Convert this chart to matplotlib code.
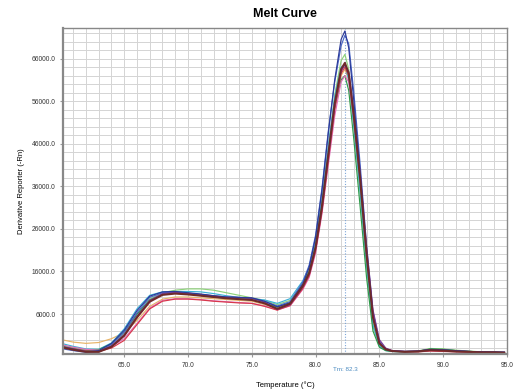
import matplotlib.pyplot as plt
from matplotlib.ticker import MultipleLocator, FixedLocator

plt.rcParams['font.family'] = ['Liberation Sans', 'DejaVu Sans']

temps = [60.2, 61, 62, 63, 64, 65, 66, 67, 68, 69, 70, 71, 72, 73, 74, 75, 76, 77, 78,
         79, 79.5, 80, 80.5, 81, 81.5, 82, 82.3, 82.6, 83, 83.5, 84, 84.5, 85, 85.5, 86,
         87, 88, 89, 90, 91, 92, 93, 94, 94.8]

navy = [-1800, -2300, -2900, -2600, -900, 2200, 6800, 10200, 11200, 11300, 11000, 10700,
        10300, 10000, 9900, 9800, 9000, 7700, 8600, 13000, 17000, 24000, 35000, 48500,
        61000, 70500, 72500, 68500, 56000, 39000, 20500, 5500, -800, -2300, -2700, -2800,
        -2700, -2300, -2400, -2600, -2800, -2900, -2900, -3000]
blue = [-2200, -2600, -3000, -2800, -1200, 1800, 6300, 9900, 11000, 11100, 10800, 10500,
        10200, 9900, 9800, 9700, 9000, 7900, 8900, 13500, 17500, 24500, 35500, 49000,
        60500, 69000, 71500, 69500, 58000, 41000, 22000, 6500, -500, -2200, -2700, -2800,
        -2800, -2400, -2500, -2700, -2800, -2900, -3000, -3000]
cyan = [-1000, -1600, -2200, -2300, -800, 2500, 7200, 10400, 11200, 11300, 11300, 11200,
        10800, 10300, 9900, 9600, 9300, 8500, 9600, 13800, 17000, 23000, 33000, 45500,
        57000, 64000, 64500, 61000, 50000, 34500, 17500, 3500, -1500, -2600, -2800, -2900,
        -2800, -2500, -2600, -2800, -2900, -3000, -3000, -3100]
green = [-1600, -2100, -2600, -2400, -1000, 1800, 6000, 9300, 10600, 10900, 10700, 10400,
         10000, 9700, 9500, 9300, 8600, 7600, 8700, 12800, 16000, 22000, 31500, 43500,
         54500, 61000, 62000, 58500, 47000, 31000, 14500, 2000, -1800, -2600, -2800, -2900,
         -2800, -2200, -2300, -2600, -2800, -2900, -3000, -3000]
lgreen = [-1400, -1900, -2400, -2300, -1100, 1500, 5800, 9500, 11000, 11600, 11900, 11900,
          11600, 11000, 10400, 9800, 9200, 8200, 9200, 13200, 16300, 22500, 32500, 45000,
          57500, 65500, 67000, 63500, 51000, 34500, 17000, 3000, -1500, -2500, -2700, -2800,
          -2700, -2100, -2200, -2500, -2700, -2900, -2900, -3000]
red = [-1800, -2200, -2700, -2800, -2000, -200, 3500, 7200, 9000, 9500, 9500, 9300,
       9000, 8800, 8600, 8500, 7800, 6900, 8000, 12000, 15000, 20800, 30000, 42000,
       54000, 62500, 64000, 62000, 52500, 37500, 20000, 5500, -700, -2200, -2700, -2900,
       -2900, -2700, -2800, -2900, -3000, -3100, -3100, -3100]
pink = [-1300, -1800, -2300, -2500, -1600, 200, 3800, 7400, 9200, 9600, 9600, 9400,
        9100, 8900, 8700, 8500, 7900, 7000, 7900, 11800, 14600, 20300, 29500, 41000,
        52500, 60500, 62000, 60500, 52000, 38000, 21000, 6500, -300, -2100, -2600, -2800,
        -2800, -2600, -2700, -2800, -2900, -3000, -3000, -3000]
purple = [-1700, -2200, -2800, -2800, -1500, 1200, 5500, 9200, 10800, 11100, 10900, 10600,
          10300, 10000, 9900, 9700, 8800, 7100, 8200, 12400, 15500, 21500, 31000, 43000,
          55000, 63000, 64500, 63000, 54000, 39500, 22000, 7000, 0, -2000, -2600, -2800,
          -2700, -2400, -2500, -2700, -2800, -2900, -3000, -3000]
brown = [-1900, -2400, -2900, -2900, -1700, 900, 5200, 8900, 10500, 10800, 10600, 10300,
         10000, 9700, 9500, 9300, 8500, 7200, 8400, 12600, 15600, 21600, 31200, 43500,
         55500, 63500, 65000, 62500, 52500, 37500, 20000, 5200, -900, -2300, -2700, -2900,
         -2800, -2500, -2600, -2800, -2900, -3000, -3000, -3100]
orange = [-100, -600, -900, -700, 200, 1600, 4500, 7800, 9500, 10000, 10000, 9800,
          9600, 9400, 9200, 9000, 8200, 7300, 8300, 12300, 15200, 21000, 30500, 42500,
          54500, 62000, 63500, 61000, 51000, 36000, 18500, 4200, -1200, -2400, -2700, -2800,
          -2700, -2300, -2400, -2600, -2800, -2900, -2900, -3000]

series = [orange, lgreen, cyan, green, pink, red, blue, purple, navy, brown]
colors = ['#e8b468', '#8ed27a', '#3ab0d8', '#2e9a4a', '#e070b8', '#d8384a',
          '#4a68c8', '#7a3c9c', '#2c3a98', '#6e2a2a']

tm = 82.3

fig = plt.figure(figsize=(5.18, 3.92), dpi=100)
ax = fig.add_axes([0.1216, 0.0969, 0.857, 0.8317])

ax.axvline(tm, color='#7fa6d8', lw=0.8, ls=(0, (1, 1.5)), zorder=1)
for s, c in zip(series, colors):
    lw = 1.5 if c == '#6e2a2a' else 0.85
    ax.plot(temps, s, color=c, lw=lw, zorder=2)

ax.set_xlim(60.2, 95.0)
ax.set_ylim(-3400, 73200)
ax.xaxis.set_major_locator(MultipleLocator(5))
ax.xaxis.set_minor_locator(MultipleLocator(1))
ax.yaxis.set_major_locator(FixedLocator([6000, 16000, 26000, 36000, 46000, 56000, 66000]))
ax.yaxis.set_minor_locator(MultipleLocator(2000))
ax.xaxis.set_major_formatter(lambda v, p: '%.1f' % v)
ax.yaxis.set_major_formatter(lambda v, p: '%.1f' % v)
ax.grid(which='both', color='#d4d4d4', lw=0.7)
ax.set_axisbelow(True)
ax.tick_params(which='both', labelsize=4.8, labelcolor='#333333', color='#999999', length=2)
ax.tick_params(which='minor', length=0)

for side in ['left', 'bottom']:
    ax.spines[side].set_color('#888888')
    ax.spines[side].set_linewidth(1.6)
for side in ['top', 'right']:
    ax.spines[side].set_color('#888888')
    ax.spines[side].set_linewidth(1.0)

ax.set_title('Melt Curve', fontsize=9, fontweight='bold', pad=8)
ax.set_xlabel('Temperature (°C)', fontsize=5.5, labelpad=9)
ax.set_ylabel('Derivative Reporter (-Rn)', fontsize=5.5, labelpad=5)
ax.text(tm, -0.04, 'Tm: %.1f' % tm, transform=ax.get_xaxis_transform(),
        ha='center', va='top', fontsize=4.5, color='#4a8ac0')

fig.savefig('out.png', dpi=100)
